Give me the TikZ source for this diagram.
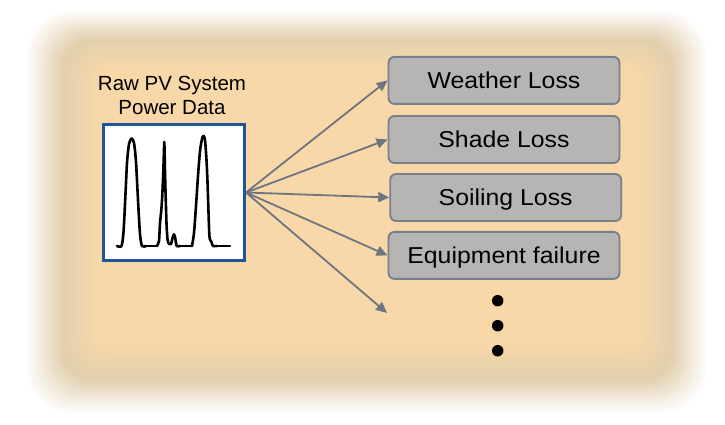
\documentclass[tikz,border=0pt]{standalone}
\usepackage{fontspec}
\setmainfont{Liberation Sans}
\newfontfamily\widesans[FakeStretch=1.08]{Liberation Sans}
\usetikzlibrary{arrows.meta}

\definecolor{beige}{RGB}{248,216,168}
\definecolor{glowband}{RGB}{226,207,174}
\definecolor{boxfill}{RGB}{181,181,181}
\definecolor{boxline}{RGB}{122,128,136}
\definecolor{arrowgray}{RGB}{108,118,128}
\definecolor{chartblue}{RGB}{31,85,151}

\tikzset{
  losstext/.style={font=\widesans\fontsize{23}{27}\selectfont, text height=16.4pt, text depth=0pt},
  lossbox/.style={draw=boxline, line width=1.9pt, fill=boxfill, rounded corners=6pt,
    minimum width=231pt, minimum height=47pt, inner sep=0pt, losstext},
  labeltext/.style={font=\fontsize{20.5}{24}\selectfont, inner sep=0pt, anchor=base},
  chartbox/.style={draw=chartblue, fill=white, line width=3pt,
    minimum width=141pt, minimum height=136pt, inner sep=0pt},
  flow/.style={draw=arrowgray, line width=1.8pt,
    -{Triangle[length=11pt, width=10pt]}},
  trace/.style={black, line width=2.6pt, line join=round, line cap=round},
  morefor/.style={circle, fill=black, minimum size=11.5pt, inner sep=0pt}
}

\begin{document}
\begin{tikzpicture}[x=1pt, y=-1pt]
\useasboundingbox (0,0) rectangle (725,424);

% soft glowing backdrop: nested rounded rectangles, white -> tan band -> beige
\foreach \i in {0,...,48}{
  \pgfmathsetmacro{\t}{\i/48}
  \pgfmathsetmacro{\xa}{25+\t*(100-25)}
  \pgfmathsetmacro{\ya}{10+\t*(68-10)}
  \pgfmathsetmacro{\xb}{708+\t*(638-708)}
  \pgfmathsetmacro{\yb}{414+\t*(345-414)}
  \pgfmathsetmacro{\rc}{45-\t*30}
  \pgfmathsetmacro{\mixA}{min(100,200*\t)}
  \pgfmathsetmacro{\mixB}{max(0,200*\t-100)}
  \colorlet{layer}{beige!\mixB!glowband}
  \colorlet{layer}{layer!\mixA!white}
  \fill[layer, rounded corners=\rc pt] (\xa,\ya) rectangle (\xb,\yb);
}

% source data panel
\node (lbla) [labeltext] at (172,90.7) {Raw PV System};
\node (lblb) [labeltext] at (172,114) {Power Data};
\node (raw) [chartbox] at (174,192.5) {};

% measured power trace, three days
\draw[trace] plot[smooth, tension=0.45] coordinates {
  (117,246) (121.5,246) (123.5,232) (125.2,200) (127,163) (129,144) (131.5,138.5)
  (134,143) (136,162) (138,200) (140,234) (142,246) (146,246)};
\draw[trace] (146,246) -- (157,246);
\draw[trace] plot[smooth, tension=0.35] coordinates {
  (157,246) (159,241) (160,223) (161.3,210) (162.2,197) (163.3,172) (164.3,142)
  (165,172) (165.7,198) (166.6,226) (167.6,240) (169,244) (171,244) (172.8,237)
  (174,234.3) (175.2,238) (176.7,246) (180,246)};
\draw[trace] (180,246) -- (192,246);
\draw[trace] plot[smooth, tension=0.45] coordinates {
  (192,246) (194,233) (196,206) (198,176) (200,151) (202,139) (203.5,136)
  (205,140) (206.5,160) (207.5,182) (208.5,212) (209.5,237) (211.5,242) (213,246) (217,246)};
\draw[trace] (217,246) -- (230,246);

% loss categories
\node (weather) [lossbox] at (504,80.4) {Weather Loss};
\node (shade)   [lossbox] at (504,139.5) {Shade Loss};
\node (soiling) [lossbox] at (505.7,197.5) {Soiling Loss};
\node (equip)   [lossbox] at (504,255.4) {Equipment failure};
\coordinate (more) at (387,313);

\node (dot1) [morefor] at (497.7,300.7) {};
\node (dot2) [morefor] at (497.7,325.7) {};
\node (dot3) [morefor] at (497.7,350.7) {};

% fan-out connectors
\coordinate (fan) at (raw.east);
\draw[flow] (fan) -- (weather.west);
\draw[flow] (fan) -- (shade.west);
\draw[flow] (fan) -- (soiling.west);
\draw[flow] (fan) -- (equip.west);
\draw[flow] (fan) -- (more);
\end{tikzpicture}
\end{document}
